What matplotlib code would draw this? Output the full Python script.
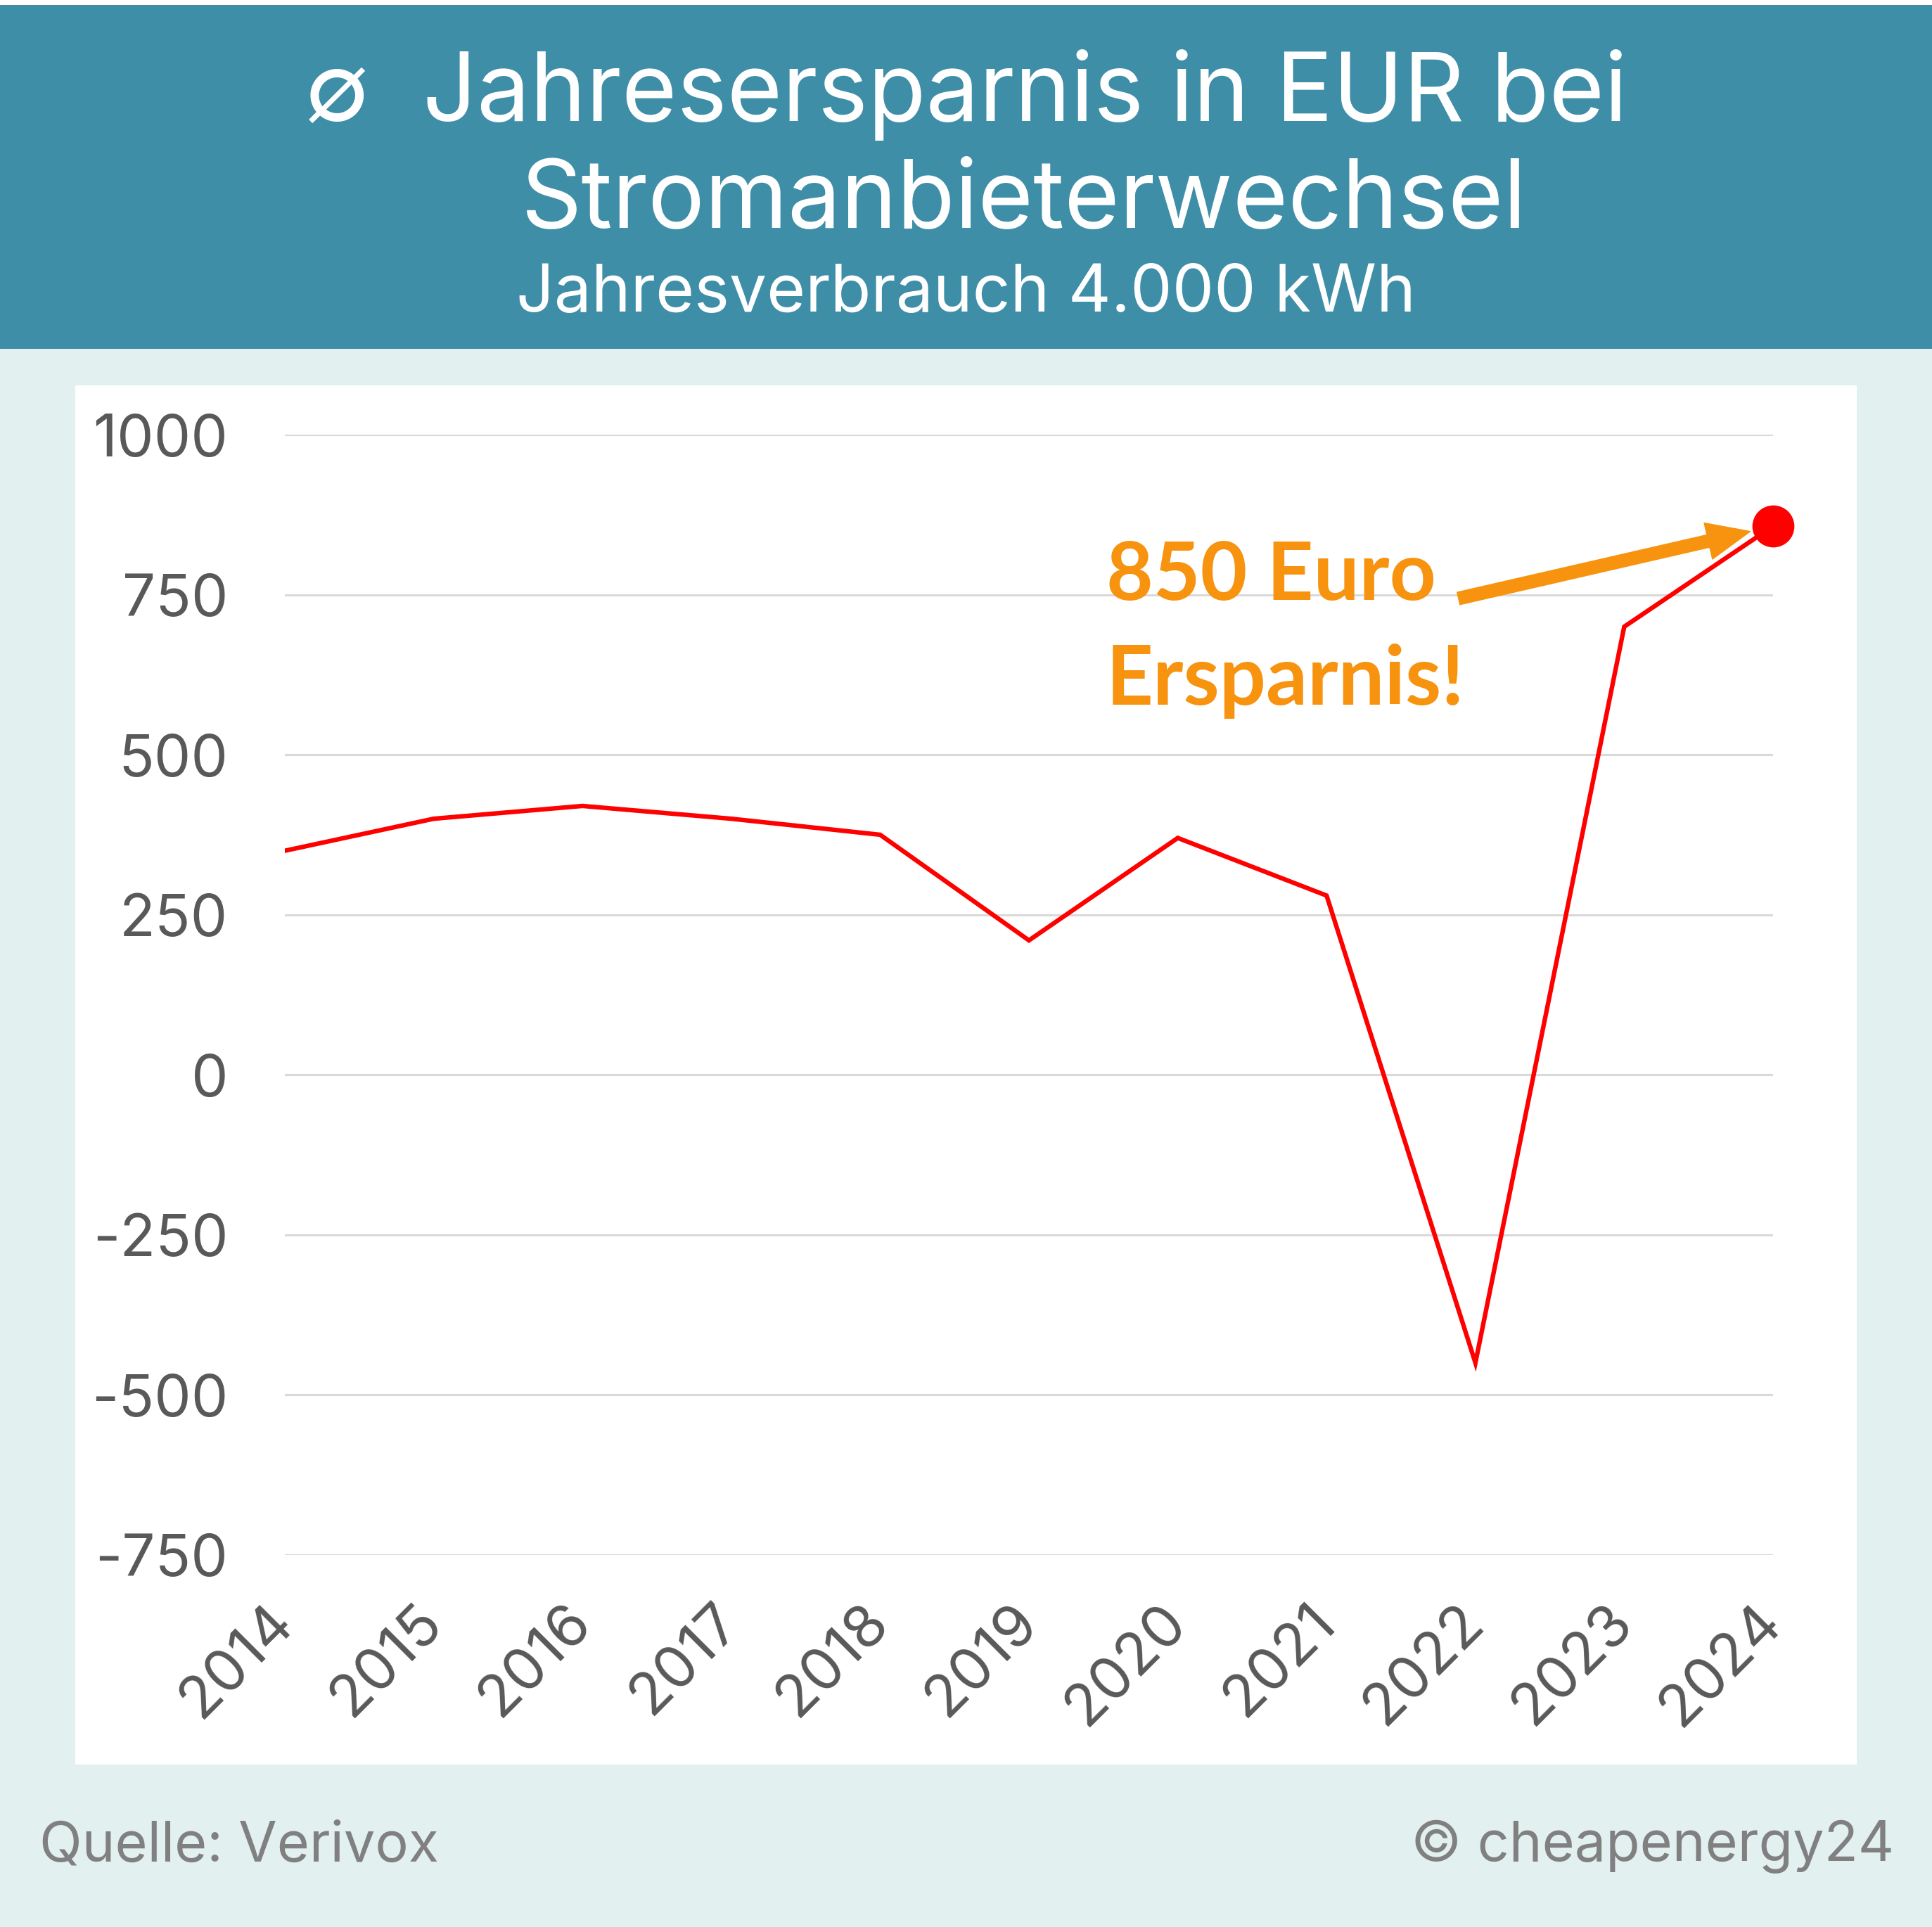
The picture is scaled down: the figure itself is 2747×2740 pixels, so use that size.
import matplotlib
matplotlib.use('Agg')
import matplotlib.pyplot as plt
from matplotlib.patches import Rectangle

# data
years = [2014, 2015, 2016, 2017, 2018, 2019, 2020, 2021, 2022, 2023, 2024]
savings = [350, 400, 420, 400, 375, 210, 370, 280, -450, 700, 857]
y_ticks = [-750, -500, -250, 0, 250, 500, 750, 1000]

title_1 = '\u2205  Jahresersparnis in EUR bei'
title_2 = 'Stromanbieterwechsel'
subtitle = 'Jahresverbrauch 4.000 kWh'
callout_1 = '850 Euro'
callout_2 = 'Ersparnis!'
source = 'Quelle: Verivox'
credit = '\u00a9 cheapenergy24'

teal = '#3E8EA7'
light_bg = '#E2F0EF'
orange = '#F7930F'
red = '#FF0000'
grey_txt = '#595959'

plt.rcParams['font.family'] = ['Inter', 'DejaVu Sans']
plt.rcParams['axes.unicode_minus'] = False

W, H = 2747, 2740
fig = plt.figure(figsize=(W / 100, H / 100), dpi=100)
fig.patch.set_facecolor(light_bg)

# header band + white plot panel
fig.add_artist(Rectangle((0, 1 - 7 / H), 1, 7 / H, transform=fig.transFigure,
                         facecolor='white', edgecolor='none', zorder=0))
fig.add_artist(Rectangle((0, 1 - 496 / H), 1, (496 - 7) / H, transform=fig.transFigure,
                         facecolor=teal, edgecolor='none', zorder=0))
fig.add_artist(Rectangle((107 / W, 1 - 2509 / H), (2640 - 107) / W, (2509 - 548) / H,
                         transform=fig.transFigure, facecolor='white',
                         edgecolor='none', zorder=0))

fig.text(0.5, 1 - 172 / H, title_1, color='white', fontsize=97,
         ha='center', va='baseline')
fig.text(0.53, 1 - 324 / H, title_2, color='white', fontsize=97,
         ha='center', va='baseline')
fig.text(0.5, 1 - 443 / H, subtitle, color='white', fontsize=68,
         ha='center', va='baseline')

left, right = 405 / W, 2521 / W
bottom, top = 1 - 2211 / H, 1 - 618 / H
ax = fig.add_axes([left, bottom, right - left, top - bottom])
ax.set_facecolor('none')

ax.plot(years, savings, color=red, lw=4.6, zorder=3, solid_joinstyle='miter')
ax.plot(years[-1], savings[-1], 'o', color=red, markersize=42, zorder=4, clip_on=False)

ax.set_xlim(years[0], years[-1])
ax.set_ylim(min(y_ticks), max(y_ticks))
ax.set_yticks(y_ticks)
ax.set_xticks(years)
ax.set_xticklabels([str(y) for y in years], rotation=45, ha='right',
                   va='center', rotation_mode='anchor')
ax.tick_params(axis='y', length=0, pad=58, labelsize=60, labelcolor=grey_txt)
ax.tick_params(axis='x', length=0, pad=60, labelsize=60, labelcolor=grey_txt)
ax.grid(axis='y', color='#D9D9D9', lw=2.2, zorder=1)
ax.grid(axis='x', visible=False)
for s in ax.spines.values():
    s.set_visible(False)

# callout text and arrow
ax.text(2019.52, 742, callout_1, color=orange, fontsize=83, fontweight='bold',
        family=['Lato', 'DejaVu Sans'], ha='left', va='baseline', zorder=5)
ax.text(2019.52, 578, callout_2, color=orange, fontsize=84, fontweight='bold',
        family=['Lato', 'DejaVu Sans'], ha='left', va='baseline', zorder=5)
ax.annotate('', xy=(years[-1], savings[-1]), xytext=(-322, -74),
            textcoords='offset points',
            arrowprops=dict(arrowstyle='simple,head_length=44,head_width=38,tail_width=13',
                            mutation_scale=1, color=orange, shrinkA=0, shrinkB=24),
            zorder=5)

fig.text(56 / W, 1 - 2646 / H, source, color='#808080', fontsize=57,
         ha='left', va='baseline')
fig.text(2693 / W, 1 - 2646 / H, credit, color='#808080', fontsize=57,
         ha='right', va='baseline')

fig.savefig('out.png', dpi=100, facecolor=fig.get_facecolor())
